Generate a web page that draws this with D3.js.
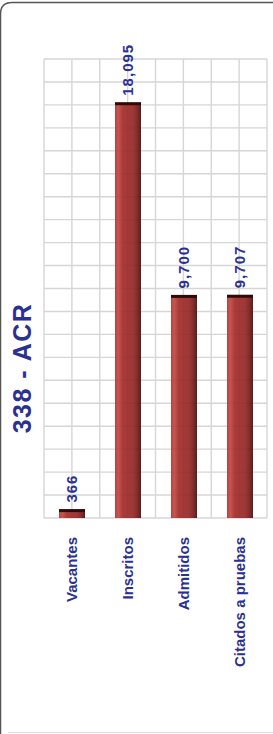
<!DOCTYPE html>
<html>
<head>
<meta charset="utf-8">
<script src="https://cdn.jsdelivr.net/npm/d3@7"></script>
<style>
  body { margin: 0; background: #fff; }
  svg { display: block; font-family: "Liberation Sans", Arial, sans-serif; }
</style>
</head>
<body>
<div id="chart"></div>
<script>
const title = "338 - ACR"
const categories = ["Vacantes", "Inscritos", "Admitidos", "Citados a pruebas"]
const values = [366, 18095, 9700, 9707]
const yMax = 20000

const width = 273, height = 734
const plot = { left: 44, right: 267, top: 59, bottom: 518 }
const textColor = "#2b3190"

const svg = d3.select("#chart").append("svg")
    .attr("width", width)
    .attr("height", height)

// gradient for the bars
const defs = svg.append("defs")
const grad = defs.append("linearGradient").attr("id", "barGrad")
    .attr("x1", "0%").attr("x2", "100%").attr("y1", "0%").attr("y2", "0%")
grad.selectAll("stop")
    .data([["0%", "#a83533"], ["12%", "#c4473f"], ["30%", "#a02b29"], ["70%", "#962625"], ["88%", "#701a19"], ["100%", "#420c0c"]])
    .join("stop")
    .attr("offset", d => d[0])
    .attr("stop-color", d => d[1])

// frame
svg.append("path")
    .attr("d", `M 0.5 ${height + 10} L 0.5 14 Q 0.5 2.5 12 2.5 L ${width + 10} 2.5`)
    .attr("fill", "none")
    .attr("stroke", "#555")
    .attr("stroke-width", 1.5)
svg.append("line")
    .attr("x1", 8).attr("x2", width)
    .attr("y1", 732.5).attr("y2", 732.5)
    .attr("stroke", "#ddd")

// scales
const x = d3.scaleBand()
    .domain(categories)
    .range([plot.left, plot.right + 1])
    .paddingInner(0.536)
    .paddingOuter(0.268)

const y = d3.scaleLinear()
    .domain([0, yMax])
    .range([plot.bottom, plot.top])

const gridX = d3.scaleLinear().domain([0, 8]).range([plot.left, plot.right])

// grid
const grid = svg.append("g")
    .attr("stroke", "#d6d6d6")
    .attr("stroke-width", 1.4)
grid.selectAll("line.h")
    .data(y.ticks(20))
    .join("line")
    .attr("class", "h")
    .attr("x1", plot.left).attr("x2", plot.right)
    .attr("y1", d => y(d)).attr("y2", d => y(d))
grid.selectAll("line.v")
    .data(d3.range(0, 9))
    .join("line")
    .attr("class", "v")
    .attr("x1", d => gridX(d)).attr("x2", d => gridX(d))
    .attr("y1", plot.top).attr("y2", plot.bottom)

// bars
const bars = svg.append("g")
    .selectAll("g")
    .data(categories.map((c, i) => ({ cat: c, value: values[i] })))
    .join("g")

bars.append("rect")
    .attr("x", d => x(d.cat))
    .attr("y", d => y(d.value))
    .attr("width", x.bandwidth())
    .attr("height", d => y(0) - y(d.value))
    .attr("fill", "url(#barGrad)")
    .attr("fill-opacity", 0.92)

bars.append("rect")
    .attr("x", d => x(d.cat))
    .attr("y", d => y(d.value) - 0.5)
    .attr("width", x.bandwidth())
    .attr("height", 3)
    .attr("fill", "#2e0a0a")

// value labels
bars.append("text")
    .attr("transform", d => `translate(${x(d.cat) + x.bandwidth() / 2},${y(d.value) - 7}) rotate(-90)`)
    .attr("dy", "0.36em")
    .attr("text-anchor", "start")
    .attr("font-size", 15)
    .attr("font-weight", "bold")
    .attr("letter-spacing", 1)
    .attr("fill", textColor)
    .text(d => d3.format(",")(d.value))

// category labels
svg.append("g")
    .selectAll("text")
    .data(categories)
    .join("text")
    .attr("transform", d => `translate(${x(d) + x.bandwidth() / 2},537) rotate(-90)`)
    .attr("dy", "0.36em")
    .attr("text-anchor", "end")
    .attr("font-size", 15)
    .attr("font-weight", "bold")
    .attr("fill", textColor)
    .text(d => d)

// title
svg.append("text")
    .attr("transform", "translate(22,368) rotate(-90)")
    .attr("dy", "0.36em")
    .attr("text-anchor", "middle")
    .attr("font-size", 25)
    .attr("font-weight", "bold")
    .attr("letter-spacing", 1.5)
    .attr("fill", textColor)
    .text(title)
</script>
</body>
</html>
